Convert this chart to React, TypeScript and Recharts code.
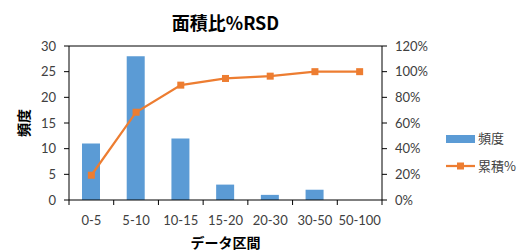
import React from 'react';
import { ComposedChart, Bar, Line, XAxis, YAxis, ReferenceLine } from 'recharts';

const categories = ['0-5', '5-10', '10-15', '15-20', '20-30', '30-50', '50-100'];
const frequency = [11, 28, 12, 3, 1, 2, 0];
const cumulativePct = [19.3, 68.4, 89.5, 94.7, 96.5, 100, 100];
const leftTicks = [0, 5, 10, 15, 20, 25, 30];
const rightTicks = [0, 20, 40, 60, 80, 100, 120];

const data = categories.map((c, i) => ({ name: c, freq: frequency[i], cum: cumulativePct[i] }));

const BLUE = '#5B9BD5';
const ORANGE = '#ED7D31';
const TXT = '#404040';
const FONT = 'Lato, "Noto Sans CJK JP", sans-serif';
const JP = '"Noto Sans CJK JP", sans-serif';

const PLOT_W = 313;
const half = PLOT_W / categories.length / 2;

const XTick = (props: any) => {
  const { x, y, payload, index } = props;
  return (
    <g>
      <line x1={x - half} x2={x - half} y1={y} y2={y + 5} stroke="#000" strokeWidth={1} />
      {index === categories.length - 1 && (
        <line x1={x + half} x2={x + half} y1={y} y2={y + 5} stroke="#000" strokeWidth={1} />
      )}
      <text x={x} y={y + 25} textAnchor="middle" fontSize={13} fill={TXT} fontFamily={FONT}>
        {payload.value}
      </text>
    </g>
  );
};

const SquareDot = (props: any) => {
  const { cx, cy } = props;
  if (cx == null || cy == null) return null;
  return <rect x={cx - 3.5} y={cy - 3.5} width={7} height={7} fill={ORANGE} />;
};

export default function App() {
  return (
    <div style={{ position: 'absolute', left: 0, top: 0, width: 520, height: 251, background: '#fff', overflow: 'hidden' }}>
      <div
        style={{
          position: 'absolute', left: 0, width: 451, top: 10, textAlign: 'center',
          fontFamily: JP, fontWeight: 'bold', fontSize: 18, color: '#000', lineHeight: '24px',
        }}
      >
        面積比%RSD
      </div>
      <div
        style={{
          position: 'absolute', left: 69, width: 313, top: 233, height: 18, textAlign: 'center',
          fontFamily: JP, fontWeight: 'bold', fontSize: 14, color: '#000', lineHeight: '18px',
        }}
      >
        データ区間
      </div>
      <div
        style={{
          position: 'absolute', left: 23, top: 123, width: 40, height: 20, marginLeft: -20, marginTop: -10,
          textAlign: 'center', transform: 'rotate(-90deg)',
          fontFamily: JP, fontWeight: 'bold', fontSize: 14, color: '#000', lineHeight: '20px',
        }}
      >
        頻度
      </div>
      <ComposedChart
        width={520}
        height={251}
        data={data}
        margin={{ top: 46, right: 0, bottom: 0, left: 0 }}
        barCategoryGap="30%"
      >
        <XAxis
          dataKey="name"
          xAxisId="x"
          height={51}
          tickSize={0}
          tickMargin={0}
          tickLine={false}
          axisLine={{ stroke: '#000', strokeWidth: 1 }}
          tick={<XTick />}
          interval={0}
        />
        <YAxis
          yAxisId="left"
          orientation="left"
          width={69}
          domain={[0, 30]}
          ticks={leftTicks}
          tickSize={5}
          tickMargin={8}
          interval={0}
          axisLine={{ stroke: '#000', strokeWidth: 1 }}
          tickLine={{ stroke: '#000' }}
          tick={{ fontSize: 13, fill: TXT, fontFamily: FONT }}
        />
        <YAxis
          yAxisId="right"
          orientation="right"
          width={138}
          domain={[0, 120]}
          ticks={rightTicks}
          tickSize={5}
          tickMargin={8}
          interval={0}
          tickFormatter={(v: number) => `${v}%`}
          axisLine={{ stroke: '#000', strokeWidth: 1 }}
          tickLine={{ stroke: '#000' }}
          tick={{ fontSize: 13, fill: TXT, fontFamily: FONT, textAnchor: 'start' }}
        />
        <ReferenceLine yAxisId="left" xAxisId="x" y={30} stroke="#000" strokeWidth={1} />
        <Bar
          dataKey="freq"
          xAxisId="x"
          yAxisId="left"
          fill={BLUE}
          barSize={18}
          isAnimationActive={false}
        />
        <Line
          dataKey="cum"
          xAxisId="x"
          yAxisId="right"
          stroke={ORANGE}
          strokeWidth={2.25}
          dot={<SquareDot />}
          activeDot={false}
          isAnimationActive={false}
        />
      </ComposedChart>
      <svg style={{ position: 'absolute', left: 440, top: 125 }} width={80} height={55}>
        <rect x={6} y={10} width={29} height={8} fill={BLUE} />
        <text x={38} y={18} fontSize={13} fill={TXT} fontFamily={JP}>頻度</text>
        <line x1={6} x2={35} y1={41} y2={41} stroke={ORANGE} strokeWidth={2.25} />
        <rect x={17} y={37.5} width={7} height={7} fill={ORANGE} />
        <text x={38} y={46} fontSize={13} fill={TXT} fontFamily={JP}>累積%</text>
      </svg>
    </div>
  );
}
